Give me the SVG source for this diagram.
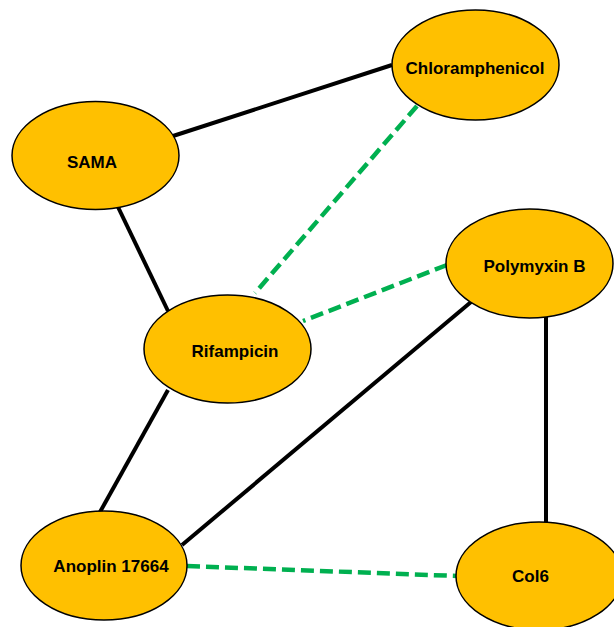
<svg xmlns="http://www.w3.org/2000/svg" width="614" height="627" viewBox="0 0 614 627">
<style>
.node ellipse{fill:#FFC000;stroke:#000;stroke-width:1.5}
.node text{font-family:"Liberation Sans",Arial,sans-serif;font-weight:bold;font-size:17px;fill:#000;text-anchor:middle}
.solid{stroke:#000;stroke-width:4;fill:none}
.dash{stroke:#00B050;stroke-width:4.5;fill:none;stroke-dasharray:13 6}
</style>
<rect width="614" height="627" fill="#fff"/>
<g id="connectors">
<line class="solid" x1="173" y1="136" x2="392" y2="65"/>
<line class="solid" x1="118" y1="207" x2="168" y2="311"/>
<line class="solid" x1="168" y1="390" x2="100" y2="512"/>
<line class="solid" x1="471" y1="302" x2="182" y2="545"/>
<line class="solid" x1="546" y1="317" x2="546" y2="523"/>
<line class="dash" x1="417" y1="106" x2="255" y2="293"/>
<line class="dash" x1="447" y1="265" x2="303" y2="321"/>
<line class="dash" x1="187" y1="566" x2="457" y2="576"/>
</g>
<g id="chloramphenicol" class="node"><ellipse cx="475.5" cy="65" rx="83.5" ry="55"/><text x="475" y="74">Chloramphenicol</text></g>
<g id="sama" class="node"><ellipse cx="95.5" cy="155.5" rx="83.5" ry="54"/><text x="92" y="168">SAMA</text></g>
<g id="polymyxin-b" class="node"><ellipse cx="529.5" cy="263.5" rx="83.5" ry="54.5"/><text x="534.5" y="272">Polymyxin B</text></g>
<g id="rifampicin" class="node"><ellipse cx="227.5" cy="349" rx="83.5" ry="54"/><text x="235" y="357">Rifampicin</text></g>
<g id="anoplin-17664" class="node"><ellipse cx="104" cy="565.5" rx="83" ry="54.5"/><text x="111" y="572">Anoplin 17664</text></g>
<g id="col6" class="node"><ellipse cx="539" cy="576" rx="83" ry="54"/><text x="530.5" y="582">Col6</text></g>
</svg>
